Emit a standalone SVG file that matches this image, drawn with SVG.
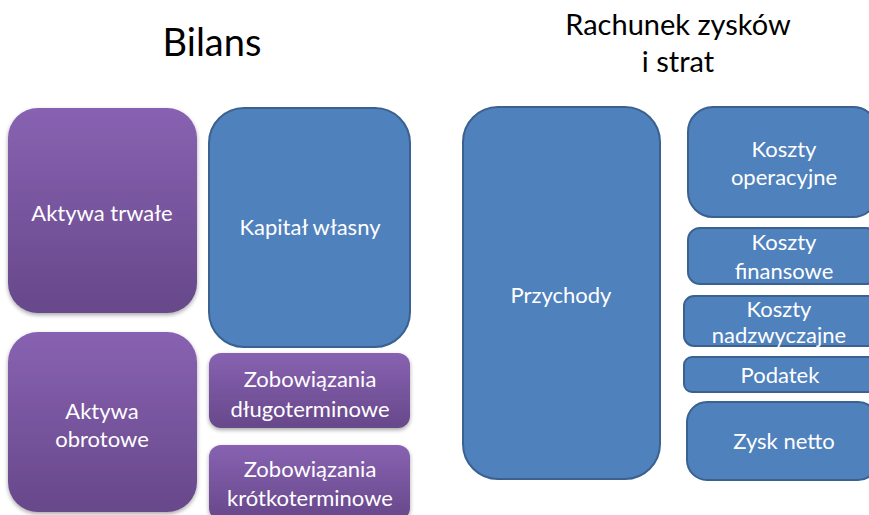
<svg xmlns="http://www.w3.org/2000/svg" width="869" height="515" viewBox="0 0 869 515">
<style>
.t{font-family:Lato,"Open Sans",sans-serif;font-size:22px;fill:#fff;text-anchor:middle}
.h{font-family:Lato,"Open Sans",sans-serif;fill:#000;text-anchor:middle}
.b{fill:#4F81BD;stroke:#3A6190;stroke-width:2}
.p{fill:url(#pg);filter:url(#sh)}
</style>
<defs>
<linearGradient id="pg" x1="0" y1="0" x2="0" y2="1">
<stop offset="0" stop-color="#8862B2"/>
<stop offset="1" stop-color="#67488A"/>
</linearGradient>
<filter id="sh" x="-10%" y="-10%" width="120%" height="125%">
<feGaussianBlur in="SourceAlpha" stdDeviation="2"/>
<feOffset dy="2" result="o"/>
<feComponentTransfer><feFuncA type="linear" slope="0.35"/></feComponentTransfer>
<feMerge><feMergeNode/><feMergeNode in="SourceGraphic"/></feMerge>
</filter>
</defs>
<text class="h" x="212" y="56" font-size="38">Bilans</text>
<text class="h" x="678" y="35" font-size="29">Rachunek zysków</text>
<text class="h" x="678" y="72" font-size="29">i strat</text>
<g id="aktywa-trwale"><rect class="p" x="8" y="108" width="189" height="205" rx="30"/><text class="t" x="102" y="221">Aktywa trwałe</text></g>
<g id="kapital-wlasny"><rect class="b" x="209" y="108" width="201" height="239" rx="35"/><text class="t" x="310" y="235">Kapitał własny</text></g>
<g id="aktywa-obrotowe"><rect class="p" x="8" y="332" width="189" height="180" rx="30"/><text class="t" x="102" y="419">Aktywa</text><text class="t" x="102" y="447">obrotowe</text></g>
<g id="zob-dlugo"><rect class="p" x="209" y="353" width="201" height="75" rx="12"/><text class="t" x="310" y="387">Zobowiązania</text><text class="t" x="310" y="417">długoterminowe</text></g>
<g id="zob-krotko"><rect class="p" x="209" y="445" width="201" height="75" rx="12"/><text class="t" x="310" y="477">Zobowiązania</text><text class="t" x="310" y="506">krótkoterminowe</text></g>
<g id="przychody"><rect class="b" x="463" y="107" width="197" height="372" rx="35"/><text class="t" x="561" y="303">Przychody</text></g>
<g id="koszty-operacyjne"><rect class="b" x="688" y="107" width="190" height="110" rx="25"/><text class="t" x="784" y="157">Koszty</text><text class="t" x="784" y="185">operacyjne</text></g>
<g id="koszty-finansowe"><rect class="b" x="688" y="228" width="190" height="56" rx="12"/><text class="t" x="784" y="250">Koszty</text><text class="t" x="784" y="279">finansowe</text></g>
<g id="koszty-nadzwyczajne"><rect class="b" x="684" y="296" width="194" height="50" rx="10"/><text class="t" x="779" y="317">Koszty</text><text class="t" x="779" y="343">nadzwyczajne</text></g>
<g id="podatek"><rect class="b" x="684" y="357" width="194" height="35" rx="8"/><text class="t" x="780" y="383">Podatek</text></g>
<g id="zysk-netto"><rect class="b" x="687" y="402" width="191" height="78" rx="20"/><text class="t" x="784" y="449">Zysk netto</text></g>
<g id="connectors"/>
</svg>
